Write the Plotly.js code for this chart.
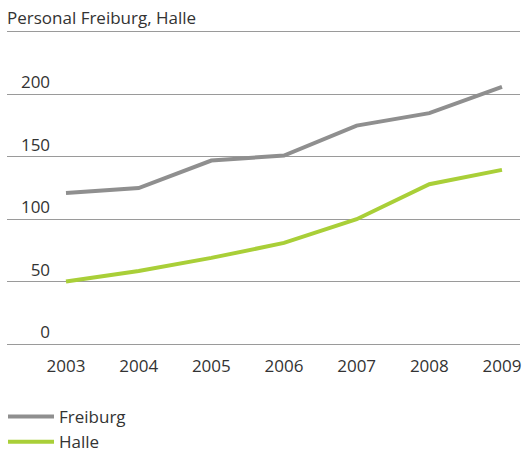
<!DOCTYPE html>
<html>
<head>
<meta charset="utf-8">
<script src="https://cdn.plot.ly/plotly-3.0.1.min.js"></script>
<style>html,body{margin:0;padding:0;background:#fff;}#chart{width:527px;height:453px;}</style>
</head>
<body>
<div id="chart"></div>
<script>
const years = [2003, 2004, 2005, 2006, 2007, 2008, 2009];
const freiburg = [121, 125, 147, 151, 175, 185, 206];
const halle = [50, 58.5, 69, 81, 100, 128, 139.5];
const yTicks = [0, 50, 100, 150, 200];

const fontFam = '"Open Sans", "DejaVu Sans", sans-serif';
const textColor = '#333333';

const traces = [
  {x: years, y: freiburg, name: 'Freiburg', type: 'scatter', mode: 'lines',
   line: {color: '#8f8f8f', width: 4}},
  {x: years, y: halle, name: 'Halle', type: 'scatter', mode: 'lines',
   line: {color: '#a9cf38', width: 4}}
];

const layout = {
  width: 527, height: 453,
  margin: {l: 7, r: 7, t: 32, b: 109, pad: 0, autoexpand: false},
  paper_bgcolor: '#ffffff', plot_bgcolor: '#ffffff',
  font: {family: fontFam, size: 17, color: textColor},
  title: {text: 'Personal Freiburg, Halle', x: 7/527, xanchor: 'left', xref: 'container',
          y: 1 - 18/453, yanchor: 'middle', yref: 'container',
          font: {family: fontFam, size: 17, color: textColor}},
  xaxis: {range: [2002.188, 2009.248], tickvals: years, ticktext: years.map(String),
          showgrid: false, zeroline: false, showline: true, mirror: true,
          linecolor: '#9a9a9a', linewidth: 1.3, ticks: 'outside', ticklen: 6, tickcolor: 'rgba(0,0,0,0)',
          automargin: false,
          fixedrange: true,
          tickfont: {size: 17, color: textColor}},
  yaxis: {range: [0, 250], tickvals: yTicks, ticktext: yTicks.map(String),
          showgrid: true, gridcolor: '#9a9a9a', gridwidth: 1.3,
          zeroline: false, showline: false, ticks: '',
          anchor: 'free', position: 0.084, ticklabelposition: 'outside top',
          automargin: false, fixedrange: true,
          tickfont: {size: 17, color: textColor}},
  showlegend: true,
  legend: {x: -0.0078, xanchor: 'left', y: 0.1192, yanchor: 'top', yref: 'container',
           orientation: 'v', bgcolor: 'rgba(0,0,0,0)', borderwidth: 0,
           font: {family: fontFam, size: 17, color: textColor}, itemwidth: 46}
};

Plotly.newPlot('chart', traces, layout, {displayModeBar: false, staticPlot: true});
</script>
</body>
</html>
